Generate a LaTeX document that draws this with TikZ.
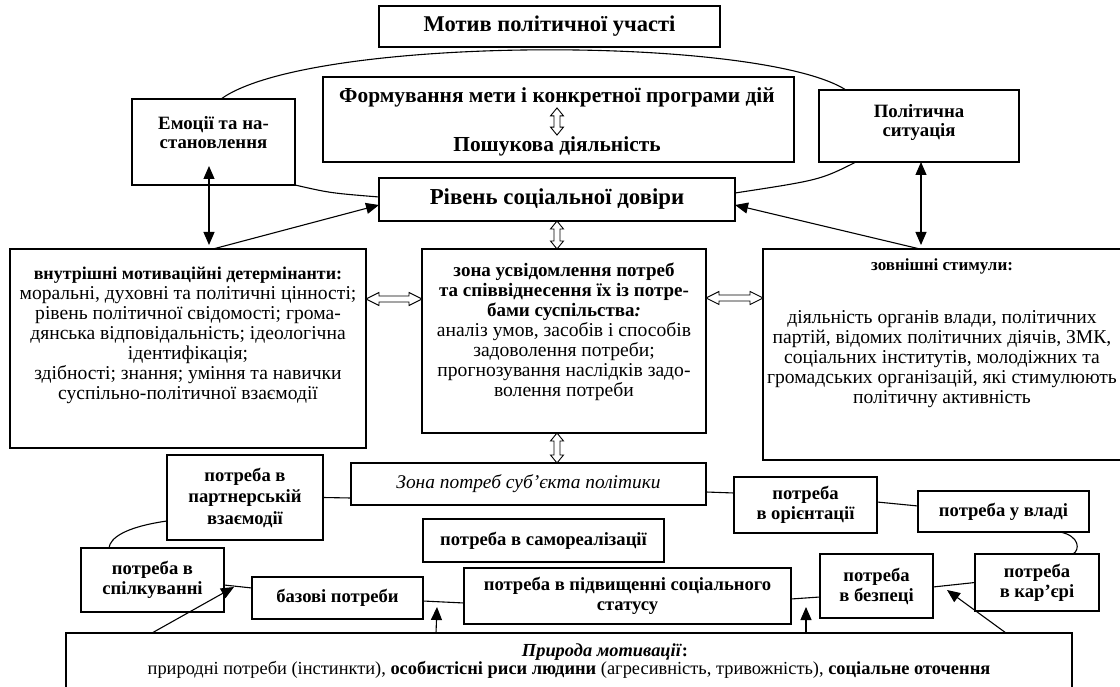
\documentclass[tikz,border=0pt]{standalone}
\usepackage{fontspec}
\setmainfont{Liberation Serif}
\usetikzlibrary{positioning, calc, arrows.meta}

\tikzset{
  box/.style={draw, line width=1.1pt, align=center, inner sep=0pt, outer sep=0pt},
  title/.style={box, font=\bfseries\fontsize{22.5}{24}\selectfont},
  head/.style={align=center, inner sep=1pt, font=\bfseries\fontsize{21.4}{24}\selectfont},
  side/.style={box, font=\bfseries\fontsize{18.8}{19}\selectfont},
  body/.style={box, font=\fontsize{19.6}{20}\selectfont},
  need/.style={box, font=\bfseries\fontsize{18.6}{20}\selectfont},
  zone/.style={box, font=\itshape\fontsize{19.4}{20}\selectfont},
  nat/.style={box, font=\fontsize{18.4}{18}\selectfont},
  link/.style={line width=1.1pt},
  arr/.style={line width=1.1pt, -{Triangle[length=13pt,width=11pt]}},
  dblarr/.style={line width=1.1pt, {Triangle[length=13pt,width=11pt]}-{Triangle[length=13pt,width=11pt]}},
  hdbl/.style={draw, line width=0.9pt, fill=white, to path={
      (\tikztostart) -- ++(13,-6.5) -- ++(0,3.5) -- ($(\tikztotarget)+(-13,-3)$)
      -- ++(0,-3.5) -- (\tikztotarget) -- ++(-13,6.5) -- ++(0,-3.5)
      -- ($(\tikztostart)+(13,3)$) -- ++(0,3.5) -- cycle}},
  vdbl/.style={draw, line width=0.9pt, fill=white, to path={
      (\tikztostart) -- ++(-6.5,8) -- ++(3.5,0) -- ($(\tikztotarget)+(-3,-8)$)
      -- ++(-3.5,0) -- (\tikztotarget) -- ++(6.5,-8) -- ++(-3.5,0)
      -- ($(\tikztostart)+(3,8)$) -- ++(3.5,0) -- cycle}},
}
\newcommand{\boxhead}[2]{{\bfseries\fontsize{#1}{20}\selectfont #2}}

\begin{document}
\begin{tikzpicture}[x=1pt, y=-1pt]
  \useasboundingbox (0,0) rectangle (1120,687);

  % Top: motive, goal and trust
  \node[title, minimum width=341, minimum height=41] (motive) at (549.5,26.5) {Мотив політичної участі};
  \node[box, minimum width=471, minimum height=85] (goal) at (558.5,119.5) {};
  \node[head] (form) at (557,97) {Формування мети і конкретної програми дій};
  \node[head] (search) at (557,146) {Пошукова діяльність};
  \draw[vdbl] (form.south) to (search.north);

  \node[side, minimum width=163, minimum height=86] (emo) at (213.5,142) {Емоції та на-\\становлення\\ \mbox{}};
  \node[side, minimum width=200, minimum height=72] (pol) at (919,126) {Політична\\ситуація\\[-8pt] \mbox{}};
  \node[title, font=\bfseries\fontsize{22.8}{24}\selectfont, minimum width=356, minimum height=43] (trust) at (557,199.5) {Рівень соціальної довіри};

  % Middle: determinants, awareness, stimuli
  \node[body, minimum width=284, minimum height=184] (aware) at (564,341)
    {\boxhead{19}{зона усвідомлення потреб}\\ \boxhead{19}{та співвіднесення їх із потре-}\\ \boxhead{19}{бами суспільства\textit{:}}\\
     аналіз умов, засобів і способів\\ задоволення потреби;\\ прогнозування наслідків задо-\\ волення потреби\\[2pt] \mbox{}};
  \node[body, minimum width=356, minimum height=199] (inner) [left=56pt of aware.north west, anchor=north east]
    {\boxhead{18}{внутрішні мотиваційні детермінанти:}\\ моральні, духовні та політичні цінності;\\ рівень політичної свідомості; грома-\\
     дянська відповідальність; ідеологічна\\ ідентифікація;\\ здібності; знання; уміння та навички\\ суспільно-політичної взаємодії\\[10pt] \mbox{}};
  \node[body, minimum width=358, minimum height=211] (outer) [right=57pt of aware.north east, anchor=north west]
    {\boxhead{17}{зовнішні стимули:}\\[33pt] діяльність органів влади, політичних\\ партій, відомих політичних діячів, ЗМК,\\
     соціальних інститутів, молодіжних та\\ громадських організацій, які стимулюють\\ політичну активність\\[26pt] \mbox{}};

  % Arcs and arrows round the trust box
  \draw[link] ([xshift=7.5]emo.north) .. controls (310,35) and (760,35) .. ([xshift=-73]pol.north);
  \draw[link] (emo.south east) .. controls (330,193) .. ([yshift=2.5]trust.west);
  \draw[link] ([xshift=-63]pol.south) .. controls (820,180) .. ([yshift=6.5]trust.east);
  \draw[arr] ([xshift=25]inner.north) -- ([yshift=-5.5]trust.west);
  \draw[arr] ([xshift=-22]outer.north) -- ([yshift=-5.5]trust.east);
  \draw[dblarr] ([xshift=-4.5,yshift=19]emo.south) -- ([xshift=21,yshift=4]inner.north);
  \draw[dblarr] ([xshift=2]pol.south) -- ([xshift=-21,yshift=4]outer.north);

  % Hollow double arrows
  \draw[vdbl] (trust.south) to (trust.south |- aware.north);
  \draw[hdbl] ([yshift=-50]inner.north east) to ([yshift=-50]aware.north west);
  \draw[hdbl] ([yshift=-49]aware.north east) to ([yshift=-49]outer.north west);

  % Bottom: needs of the subject
  \node[zone, minimum width=355, minimum height=42] (needs) at (528.5,484) {Зона потреб суб’єкта політики};
  \draw[vdbl] (aware.south -| trust.south) to (needs.north -| trust.south);
  \node[need, font=\bfseries\fontsize{18.6}{21.5}\selectfont, minimum width=156, minimum height=85] (partner) at (245,497.5) {потреба в\\партнерській\\взаємодії};
  \node[need, minimum width=241, minimum height=43] (selfr) at (543.5,540.5) {потреба в самореалізації};
  \node[need, minimum width=143, minimum height=64] (commun) at (152.5,580) {потреба в\\спілкуванні};
  \node[need, minimum width=171, minimum height=42] (basic) at (337.5,598) {базові потреби};
  \node[need, minimum width=327, minimum height=56] (status) at (627.5,596) {потреба в підвищенні соціального\\статусу};
  \node[need, minimum width=143, minimum height=56] (orient) at (805.5,505) {потреба\\в орієнтації};
  \node[need, minimum width=171, minimum height=41] (power) at (1003.5,511.5) {потреба у владі};
  \node[need, minimum width=113, minimum height=64] (safety) at (876.5,586) {потреба\\в безпеці};
  \node[need, minimum width=124, minimum height=57] (career) at (1037,582.5) {потреба\\в кар’єрі};

  % Links between needs
  \draw[link] (partner.east) -- ([yshift=-14]needs.west);
  \draw[link] ([yshift=-23.5]partner.west) .. controls (125,527) and (110,538) .. ([xshift=-43.5]commun.north);
  \draw[link] ([yshift=-5]commun.east) -- ([yshift=10]basic.west);
  \draw[link] ([yshift=-3]basic.east) -- ([yshift=-7]status.west);
  \draw[link] ([yshift=-3]status.east) -- ([yshift=-11]safety.west);
  \draw[link] (career.west) -- ([yshift=-1]safety.east);
  \draw[link] ([yshift=-8]needs.east) -- ([yshift=12]orient.west);
  \draw[link] ([yshift=3]orient.east) -- ([yshift=5.5]power.west);
  \draw[link] ([xshift=56.5]power.south) .. controls (1080,536) and (1080,550) .. ([xshift=36]career.north);

  % Nature of motivation
  \node[nat, minimum width=1006, minimum height=56, anchor=north] (nature) at (569,633)
    {\hspace*{72pt}\textbf{\textit{Природа мотивації}:}\\ природні потреби (інстинкти), \textbf{особистісні риси людини} (агресивність, тривожність), \textbf{соціальне оточення}};
  \draw[arr] ([xshift=-417]nature.north) -- ([xshift=10,yshift=-7]commun.east);
  \draw[arr] ([xshift=-133]nature.north) -- ([xshift=14,yshift=12]basic.south east);
  \draw[arr] ([xshift=237]nature.north) -- ([xshift=-14,yshift=11]safety.south west);
  \draw[arr] ([xshift=437]nature.north) -- ([xshift=14,yshift=28]safety.south east);
\end{tikzpicture}
\end{document}
